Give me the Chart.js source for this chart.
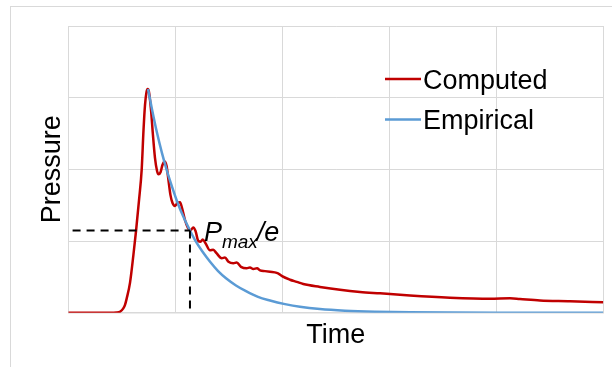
<!DOCTYPE html>
<html>
<head>
<meta charset="utf-8">
<script src="https://cdn.jsdelivr.net/npm/chart.js@4/dist/chart.umd.min.js"></script>
<style>
  html, body { margin: 0; padding: 0; background: #ffffff; }
  #wrap { width: 612px; height: 367px; position: relative; }
</style>
</head>
<body>
<div id="wrap"><canvas id="c" width="612" height="367"></canvas></div>
<script>
// Pressure pulse: simulated trace vs. exponential-decay fit
const computedTime = [0, 3.9, 4.5, 4.83, 5.14, 5.30, 5.46, 5.77, 6.08, 6.33, 6.61, 6.86, 7.03, 7.17, 7.31, 7.42,
  7.54, 7.73, 7.91, 8.10, 8.29, 8.43, 8.62, 8.80, 8.99, 9.18, 9.36, 9.55, 9.74, 9.97, 10.21, 10.44,
  10.63, 10.91, 11.19, 11.42, 11.68, 11.89, 12.15, 12.36, 12.56, 12.82, 13.24, 13.55, 13.85, 14.34,
  14.64, 14.97, 15.42, 15.74, 16.14, 16.67, 16.98, 17.29, 17.64, 17.92, 18.38, 18.85, 19.48, 19.75, 19.98,
  20.72, 21.35, 21.96, 23.52, 25.39, 27.26, 29.13, 31.93, 35.67, 39.41, 41.28, 42.21, 44.08, 46.89, 50];
const computedPressure = [0, 0, 0.003, 0.014, 0.06, 0.11, 0.20, 0.42, 0.80, 1.14, 1.57, 2.0, 2.55, 2.90, 3.08, 3.12,
  3.08, 2.83, 2.48, 2.16, 1.98, 1.93, 1.96, 2.06, 2.11, 2.05, 1.85, 1.64, 1.53, 1.49, 1.53, 1.54,
  1.46, 1.29, 1.18, 1.15, 1.19, 1.14, 1.00, 0.99, 1.02, 0.97, 0.87, 0.88, 0.83, 0.76,
  0.77, 0.71, 0.69, 0.70, 0.64, 0.62, 0.63, 0.61, 0.62, 0.59, 0.58, 0.57, 0.555, 0.535, 0.51,
  0.46, 0.43, 0.40, 0.36, 0.32, 0.29, 0.27, 0.24, 0.21, 0.195, 0.20, 0.19, 0.17, 0.16, 0.145];

const empiricalTime = [7.45, 7.82, 8.29, 8.75, 9.22, 9.69, 10.25, 10.81, 11.37, 11.93, 12.50, 13.25,
  14.00, 14.74, 15.67, 16.61, 17.73, 18.85, 20.25, 21.65, 23.52, 25.86, 28.66, 31.93, 35.67, 40.35, 45.96, 50];
const empiricalPressure = [3.12, 2.84, 2.51, 2.23, 1.98, 1.76, 1.52, 1.32, 1.148, 0.99, 0.86, 0.71,
  0.58, 0.48, 0.38, 0.30, 0.22, 0.17, 0.12, 0.082, 0.05, 0.028, 0.014, 0.006, 0.002, 0, 0, 0];

// P_max/e marker: time constant and level
const tauTime = 11.37;
const tauLevel = 1.148;
const guideStart = 0.4;

const xTicks = [0, 10, 20, 30, 40, 50];
const yTicks = [0, 1, 2, 3, 4];

const RED = '#c00000';
const BLUE = '#5b9bd5';
const FONT = '"Liberation Sans", Arial, sans-serif';

const toXY = (xs, ys) => xs.map((x, i) => ({ x, y: ys[i] }));

const decorations = {
  id: 'decorations',
  beforeDraw(chart) {
    const ctx = chart.ctx;
    ctx.save();
    ctx.strokeStyle = '#d9d9d9';
    ctx.lineWidth = 1;
    ctx.strokeRect(10.5, 6.5, 700, 500);
    ctx.restore();
  },
  afterDraw(chart) {
    const ctx = chart.ctx;
    const xs = chart.scales.x, ys = chart.scales.y;
    ctx.save();
    ctx.fillStyle = '#000000';
    // axis titles
    ctx.font = '27px ' + FONT;
    ctx.textAlign = 'center';
    ctx.textBaseline = 'alphabetic';
    ctx.fillText('Time', (chart.chartArea.left + chart.chartArea.right) / 2, 343);
    ctx.save();
    ctx.translate(60, (chart.chartArea.top + chart.chartArea.bottom) / 2);
    ctx.rotate(-Math.PI / 2);
    ctx.fillText('Pressure', 0, 0);
    ctx.restore();

    // legend
    const items = [['Computed', RED, 79], ['Empirical', BLUE, 119.5]];
    ctx.textAlign = 'left';
    items.forEach(([label, color, y]) => {
      ctx.strokeStyle = color;
      ctx.lineWidth = 2.5;
      ctx.beginPath();
      ctx.moveTo(385, y);
      ctx.lineTo(421, y);
      ctx.stroke();
      ctx.fillText(label, 423, y + 9.5);
    });

    // P_max/e label next to the guide corner
    const px = xs.getPixelForValue(tauTime) + 14;
    const py = ys.getPixelForValue(tauLevel) + 11;
    ctx.font = 'italic 27px ' + FONT;
    ctx.fillText('P', px, py);
    let w = ctx.measureText('P').width;
    ctx.font = 'italic 19px ' + FONT;
    ctx.fillText('max', px + w, py + 7);
    w += ctx.measureText('max').width;
    ctx.font = 'italic 27px ' + FONT;
    ctx.fillText('/e', px + w - 1, py);
    ctx.restore();
  }
};

new Chart(document.getElementById('c'), {
  type: 'line',
  data: {
    datasets: [
      {
        label: 'Computed',
        data: toXY(computedTime, computedPressure),
        borderColor: RED,
        borderWidth: 2.5,
        pointRadius: 0,
        cubicInterpolationMode: 'monotone',
        order: 3
      },
      {
        label: 'Empirical',
        data: toXY(empiricalTime, empiricalPressure),
        borderColor: BLUE,
        borderWidth: 2.5,
        pointRadius: 0,
        cubicInterpolationMode: 'monotone',
        order: 2
      },
      {
        label: 'level',
        data: [{ x: guideStart, y: tauLevel }, { x: tauTime, y: tauLevel }],
        borderColor: '#000000',
        borderWidth: 2,
        borderDash: [8, 6],
        pointRadius: 0,
        order: 1
      },
      {
        label: 'time',
        data: [{ x: tauTime, y: tauLevel }, { x: tauTime, y: 0 }],
        borderColor: '#000000',
        borderWidth: 2,
        borderDash: [8, 6],
        pointRadius: 0,
        order: 1
      }
    ]
  },
  options: {
    responsive: false,
    animation: false,
    devicePixelRatio: 1,
    layout: { padding: { left: 68.3, top: 26, right: 8.7, bottom: 54.3 } },
    plugins: { legend: { display: false }, tooltip: { enabled: false } },
    scales: {
      x: {
        type: 'linear',
        min: 0, max: 50,
        afterBuildTicks: (s) => { s.ticks = xTicks.map(v => ({ value: v })); },
        ticks: { display: false },
        grid: { color: '#d9d9d9', lineWidth: 1, drawTicks: false },
        border: { display: true, color: '#d9d9d9', width: 1.5 }
      },
      y: {
        type: 'linear',
        min: 0, max: 4,
        afterBuildTicks: (s) => { s.ticks = yTicks.map(v => ({ value: v })); },
        ticks: { display: false },
        grid: { color: '#d9d9d9', lineWidth: 1, drawTicks: false },
        border: { display: true, color: '#d9d9d9', width: 1 }
      }
    }
  },
  plugins: [decorations]
});
</script>
</body>
</html>
